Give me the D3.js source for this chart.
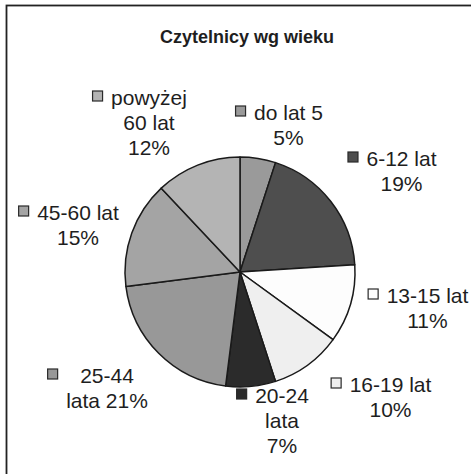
<!DOCTYPE html>
<html>
<head>
<meta charset="utf-8">
<script src="https://cdn.jsdelivr.net/npm/d3@7"></script>
<style>
  body { margin: 0; background: #fff; }
  text { font-family: "Liberation Sans", Arial, sans-serif; fill: #1e1e1e; }
</style>
</head>
<body>
<svg></svg>
<script>
var categories = ["do lat 5", "6-12 lat", "13-15 lat", "16-19 lat", "20-24 lata", "25-44 lata", "45-60 lat", "powyżej 60 lat"];
var shares = [5, 19, 11, 10, 7, 21, 15, 12];
var sliceColors = ["#9a9a9a", "#4e4e4e", "#fdfdfd", "#efefef", "#2b2b2b", "#989898", "#a4a4a4", "#b4b4b4"];

var width = 471;
var height = 474;
var cx = 240, cy = 272, radius = 115;

// where each label block sits (centre x, first baseline y) and how wide a line may get
var labelPos = [[288.5, 120], [401.5, 166], [427.5, 303], [390.5, 392],
                [282, 403], [107, 383], [78, 220], [149, 105]];
var wrapWidth = [80, 90, 90, 90, 60, 88, 90, 80];
var lineStep = 25;

var data = categories.map((c, i) => ({name: c, value: shares[i], color: sliceColors[i]}));

var svg = d3.select("svg")
    .attr("width", width)
    .attr("height", height);

// chart frame (runs off the right and bottom edge)
svg.append("rect")
    .attr("x", 6.5)
    .attr("y", 5.5)
    .attr("width", 490)
    .attr("height", 490)
    .attr("fill", "#fff")
    .attr("stroke", "#222")
    .attr("stroke-width", 1.8);

svg.append("text")
    .attr("x", 247)
    .attr("y", 43)
    .attr("text-anchor", "middle")
    .style("font-size", "18px")
    .style("font-weight", "bold")
    .text("Czytelnicy wg wieku");

var pie = d3.pie()
    .value(d => d.value)
    .sort(null);

var arc = d3.arc()
    .innerRadius(0)
    .outerRadius(radius);

svg.append("g")
    .attr("transform", "translate(" + cx + "," + cy + ")")
  .selectAll("path")
  .data(pie(data))
  .enter()
  .append("path")
    .attr("d", arc)
    .attr("fill", d => d.data.color)
    .attr("stroke", "#1a1a1a")
    .attr("stroke-width", 1.5)
    .attr("stroke-linejoin", "round");

var labels = svg.append("g");

data.forEach(function(d, i) {
  var words = (d.name + " " + d.value + "%").split(" ");
  var g = labels.append("g");
  var pos = labelPos[i];

  // greedy word wrap, measured with the real font
  var probe = g.append("text").style("font-size", "21px");
  var lines = [], cur = "";
  words.forEach(function(w) {
    var test = cur ? cur + " " + w : w;
    probe.text(test);
    if (cur && probe.node().getComputedTextLength() > wrapWidth[i]) {
      lines.push(cur);
      cur = w;
    } else {
      cur = test;
    }
  });
  lines.push(cur);
  probe.remove();

  var maxW = 0;
  lines.forEach(function(line, k) {
    var t = g.append("text")
        .attr("x", pos[0])
        .attr("y", pos[1] + k * lineStep)
        .attr("text-anchor", "middle")
        .style("font-size", "21px")
        .text(line);
    maxW = Math.max(maxW, t.node().getComputedTextLength());
  });

  var size = 10;
  g.append("rect")
      .attr("x", pos[0] - maxW / 2 - 9 - size + 0.5)
      .attr("y", pos[1] - 9.5 - size / 2 + 0.5)
      .attr("width", size)
      .attr("height", size)
      .attr("fill", d.color)
      .attr("stroke", "#2a2a2a")
      .attr("stroke-width", 1.2);
});
</script>
</body>
</html>
